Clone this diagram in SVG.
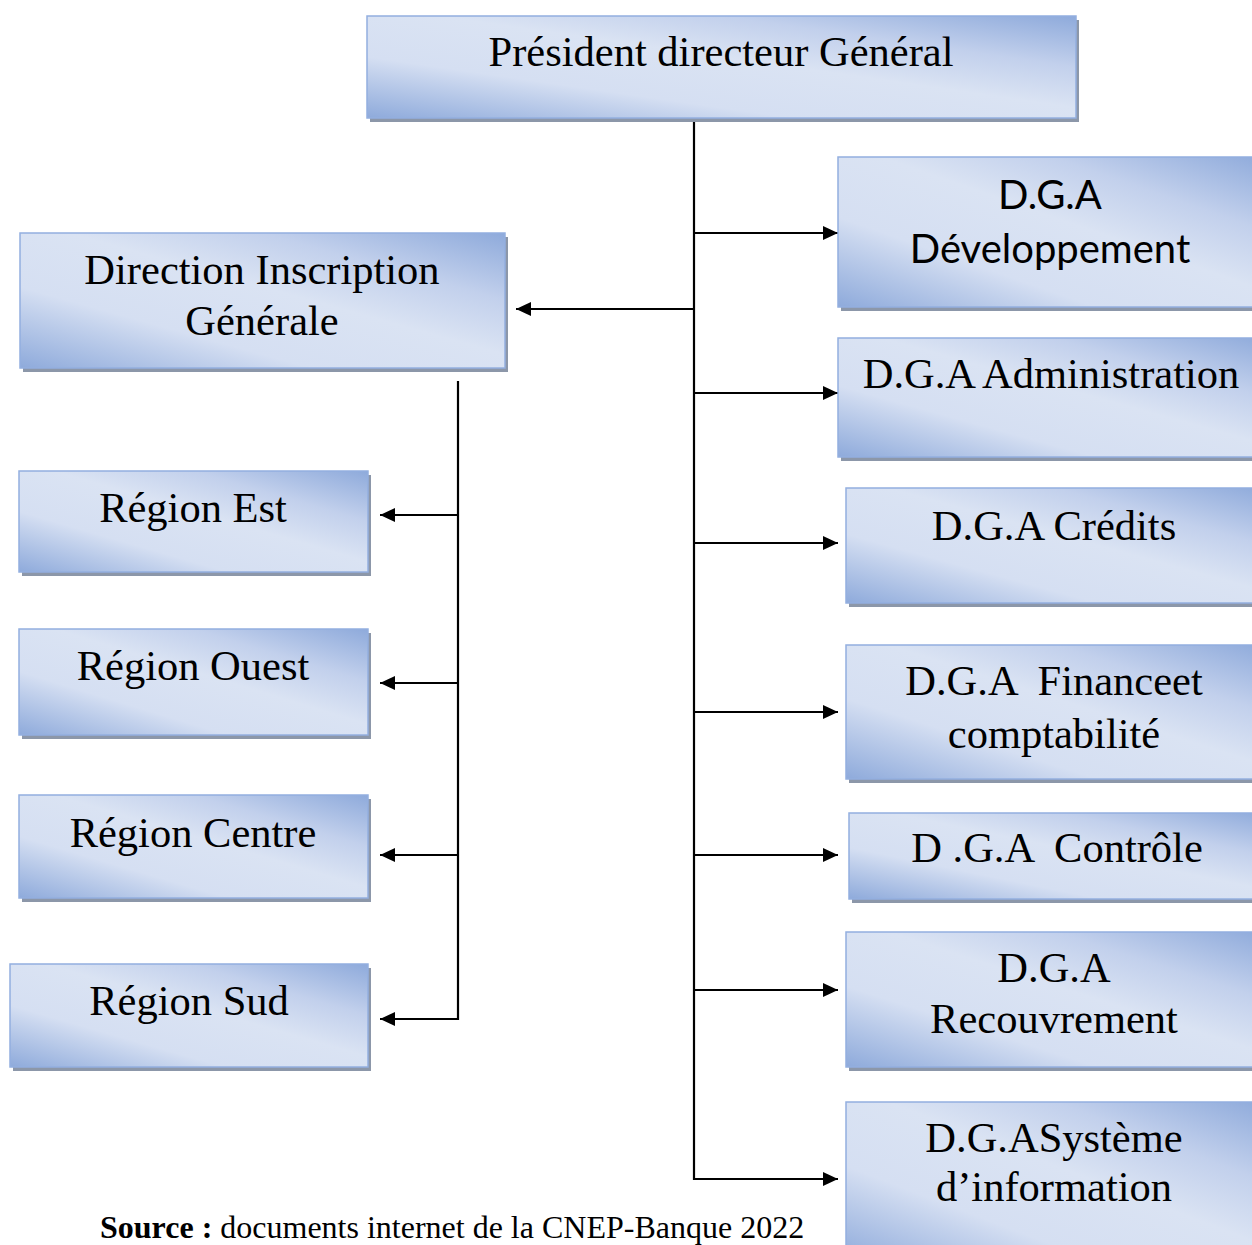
<svg xmlns="http://www.w3.org/2000/svg" width="1252" height="1245" viewBox="0 0 1252 1245">
<style>
.shadow{fill:#8c97a9}
.box{fill:url(#g);stroke:#93afdf;stroke-width:1.5}
.t{font-family:"Liberation Serif","Times New Roman",serif;font-size:42.5px;fill:#000;text-anchor:middle}
.s{font-family:Lato,"Noto Sans",sans-serif;font-size:40px;fill:#000;text-anchor:middle}
.c{stroke:#000;stroke-width:2.2;fill:none}
.src{font-family:"Liberation Serif","Times New Roman",serif;font-size:32px;fill:#000}
</style>
<defs>
<linearGradient id="g" x1="0" y1="1" x2="1" y2="0">
<stop offset="0" stop-color="#8eaadb"/>
<stop offset="0.3" stop-color="#d5dff2"/>
<stop offset="0.55" stop-color="#dae3f3"/>
<stop offset="0.75" stop-color="#c2d0ec"/>
<stop offset="1" stop-color="#8eaadb"/>
</linearGradient>
<marker id="ah" markerUnits="userSpaceOnUse" markerWidth="16" markerHeight="15" refX="15" refY="7" orient="auto">
<path d="M0,0 L15,7 L0,14 z" fill="#000"/>
</marker>
</defs>
<rect width="1252" height="1245" fill="#fff"/>
<g id="connectors">
<line class="c" x1="694" y1="118" x2="694" y2="1180"/>
<line class="c" x1="694" y1="233" x2="838" y2="233" marker-end="url(#ah)"/>
<line class="c" x1="694" y1="309" x2="516" y2="309" marker-end="url(#ah)"/>
<line class="c" x1="694" y1="393" x2="838" y2="393" marker-end="url(#ah)"/>
<line class="c" x1="694" y1="543" x2="838" y2="543" marker-end="url(#ah)"/>
<line class="c" x1="694" y1="712" x2="838" y2="712" marker-end="url(#ah)"/>
<line class="c" x1="694" y1="855" x2="838" y2="855" marker-end="url(#ah)"/>
<line class="c" x1="694" y1="990" x2="838" y2="990" marker-end="url(#ah)"/>
<line class="c" x1="694" y1="1179" x2="838" y2="1179" marker-end="url(#ah)"/>
<line class="c" x1="458" y1="381" x2="458" y2="1020"/>
<line class="c" x1="458" y1="515" x2="380" y2="515" marker-end="url(#ah)"/>
<line class="c" x1="458" y1="683" x2="380" y2="683" marker-end="url(#ah)"/>
<line class="c" x1="458" y1="855" x2="380" y2="855" marker-end="url(#ah)"/>
<line class="c" x1="458" y1="1019" x2="380" y2="1019" marker-end="url(#ah)"/>
</g>
<g id="pdg">
<rect class="shadow" x="370" y="20" width="709" height="102"/>
<rect class="box" x="367" y="16" width="709" height="102"/>
<text class="t" x="721" y="66">Président directeur Général</text>
</g>
<g id="dig">
<rect class="shadow" x="23" y="237" width="485" height="135"/>
<rect class="box" x="20" y="233" width="485" height="135"/>
<text class="t" x="262" y="284">Direction Inscription</text>
<text class="t" x="262" y="335">Générale</text>
</g>
<g id="dga-dev">
<rect class="shadow" x="841" y="161" width="430" height="150"/>
<rect class="box" x="838" y="157" width="430" height="150"/>
<text class="s" x="1050" y="209">D.G.A</text>
<text class="s" x="1050" y="263">Développement</text>
</g>
<g id="dga-admin">
<rect class="shadow" x="841" y="342" width="430" height="119"/>
<rect class="box" x="838" y="338" width="430" height="119"/>
<text class="t" x="1051" y="388">D.G.A Administration</text>
</g>
<g id="dga-credits">
<rect class="shadow" x="849" y="492" width="420" height="115"/>
<rect class="box" x="846" y="488" width="420" height="115"/>
<text class="t" x="1054" y="540">D.G.A Crédits</text>
</g>
<g id="dga-finance">
<rect class="shadow" x="849" y="649" width="420" height="134"/>
<rect class="box" x="846" y="645" width="420" height="134"/>
<text class="t" x="1054" y="695" xml:space="preserve">D.G.A  Financeet</text>
<text class="t" x="1054" y="748">comptabilité</text>
</g>
<g id="dga-controle">
<rect class="shadow" x="852" y="817" width="420" height="86"/>
<rect class="box" x="849" y="813" width="420" height="86"/>
<text class="t" x="1057" y="862" xml:space="preserve">D .G.A  Contrôle</text>
</g>
<g id="dga-recouvrement">
<rect class="shadow" x="849" y="936" width="420" height="135"/>
<rect class="box" x="846" y="932" width="420" height="135"/>
<text class="t" x="1054" y="982">D.G.A</text>
<text class="t" x="1054" y="1033">Recouvrement</text>
</g>
<g id="dga-systeme">
<rect class="shadow" x="849" y="1106" width="420" height="160"/>
<rect class="box" x="846" y="1102" width="420" height="160"/>
<text class="t" x="1054" y="1152">D.G.ASystème</text>
<text class="t" x="1054" y="1201">d’information</text>
</g>
<g id="region-est">
<rect class="shadow" x="22" y="475" width="349" height="101"/>
<rect class="box" x="19" y="471" width="349" height="101"/>
<text class="t" x="193" y="522">Région Est</text>
</g>
<g id="region-ouest">
<rect class="shadow" x="22" y="633" width="349" height="106"/>
<rect class="box" x="19" y="629" width="349" height="106"/>
<text class="t" x="193" y="680">Région Ouest</text>
</g>
<g id="region-centre">
<rect class="shadow" x="22" y="799" width="349" height="103"/>
<rect class="box" x="19" y="795" width="349" height="103"/>
<text class="t" x="193" y="847">Région Centre</text>
</g>
<g id="region-sud">
<rect class="shadow" x="13" y="968" width="358" height="103"/>
<rect class="box" x="10" y="964" width="358" height="103"/>
<text class="t" x="189" y="1015">Région Sud</text>
</g>
<text class="src" x="100" y="1238"><tspan font-weight="bold">Source :</tspan> documents internet de la CNEP-Banque 2022</text>
</svg>
